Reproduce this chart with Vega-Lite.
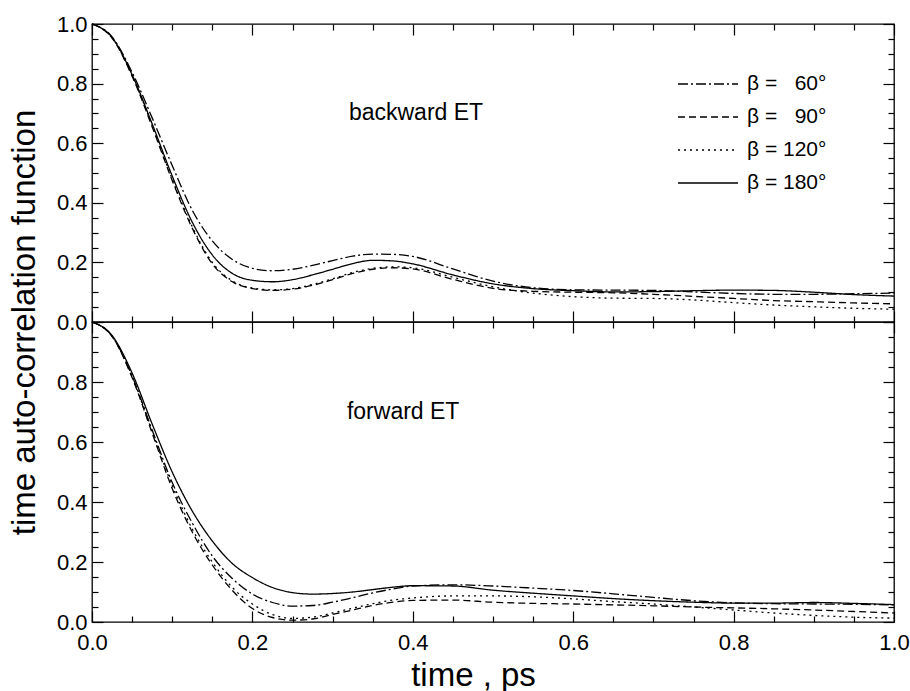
{
  "$schema": "https://vega.github.io/schema/vega-lite/v6.json",
  "padding": {"left": 7, "top": 12, "right": 12, "bottom": 5},
  "spacing": 0,
  "bounds": "flush",
  "config": {
    "font": "Liberation Sans",
    "view": {"stroke": "black", "strokeWidth": 1.3},
    "axis": {"domain": false, "grid": false, "labelFlush": false, "labelFont": "Liberation Sans", "labelFontSize": 22, "labelColor": "black", "tickColor": "black", "tickWidth": 1.2, "titleFont": "Liberation Sans", "titleFontSize": 33, "titleFontWeight": "normal", "titleColor": "black"},
    "concat": {"spacing": 0}
  },
  "datasets": {
    "top": [
      {"b":"60","t":0,"v":1},{"b":"60","t":0.025,"v":0.957},{"b":"60","t":0.05,"v":0.838},{"b":"60","t":0.075,"v":0.685},{"b":"60","t":0.1,"v":0.525},{"b":"60","t":0.125,"v":0.375},{"b":"60","t":0.15,"v":0.272},{"b":"60","t":0.175,"v":0.21},{"b":"60","t":0.2,"v":0.18},{"b":"60","t":0.225,"v":0.172},{"b":"60","t":0.25,"v":0.177},{"b":"60","t":0.275,"v":0.19},{"b":"60","t":0.3,"v":0.206},{"b":"60","t":0.325,"v":0.221},{"b":"60","t":0.35,"v":0.228},{"b":"60","t":0.375,"v":0.227},{"b":"60","t":0.4,"v":0.22},{"b":"60","t":0.45,"v":0.178},{"b":"60","t":0.5,"v":0.137},{"b":"60","t":0.55,"v":0.115},{"b":"60","t":0.6,"v":0.108},{"b":"60","t":0.65,"v":0.107},{"b":"60","t":0.7,"v":0.106},{"b":"60","t":0.75,"v":0.101},{"b":"60","t":0.8,"v":0.096},{"b":"60","t":0.85,"v":0.093},{"b":"60","t":0.9,"v":0.093},{"b":"60","t":0.95,"v":0.095},{"b":"60","t":1,"v":0.097},
      {"b":"90","t":0,"v":1},{"b":"90","t":0.025,"v":0.953},{"b":"90","t":0.05,"v":0.825},{"b":"90","t":0.075,"v":0.655},{"b":"90","t":0.1,"v":0.475},{"b":"90","t":0.125,"v":0.315},{"b":"90","t":0.15,"v":0.195},{"b":"90","t":0.175,"v":0.135},{"b":"90","t":0.2,"v":0.112},{"b":"90","t":0.225,"v":0.106},{"b":"90","t":0.25,"v":0.11},{"b":"90","t":0.275,"v":0.123},{"b":"90","t":0.3,"v":0.142},{"b":"90","t":0.325,"v":0.163},{"b":"90","t":0.35,"v":0.177},{"b":"90","t":0.375,"v":0.182},{"b":"90","t":0.4,"v":0.178},{"b":"90","t":0.45,"v":0.143},{"b":"90","t":0.5,"v":0.113},{"b":"90","t":0.55,"v":0.103},{"b":"90","t":0.6,"v":0.1},{"b":"90","t":0.65,"v":0.098},{"b":"90","t":0.7,"v":0.093},{"b":"90","t":0.75,"v":0.086},{"b":"90","t":0.8,"v":0.079},{"b":"90","t":0.85,"v":0.072},{"b":"90","t":0.9,"v":0.068},{"b":"90","t":0.95,"v":0.064},{"b":"90","t":1,"v":0.061},
      {"b":"120","t":0,"v":1},{"b":"120","t":0.025,"v":0.954},{"b":"120","t":0.05,"v":0.827},{"b":"120","t":0.075,"v":0.66},{"b":"120","t":0.1,"v":0.48},{"b":"120","t":0.125,"v":0.32},{"b":"120","t":0.15,"v":0.2},{"b":"120","t":0.175,"v":0.138},{"b":"120","t":0.2,"v":0.114},{"b":"120","t":0.225,"v":0.108},{"b":"120","t":0.25,"v":0.112},{"b":"120","t":0.275,"v":0.126},{"b":"120","t":0.3,"v":0.145},{"b":"120","t":0.325,"v":0.166},{"b":"120","t":0.35,"v":0.18},{"b":"120","t":0.375,"v":0.185},{"b":"120","t":0.4,"v":0.182},{"b":"120","t":0.45,"v":0.15},{"b":"120","t":0.5,"v":0.118},{"b":"120","t":0.55,"v":0.097},{"b":"120","t":0.6,"v":0.085},{"b":"120","t":0.65,"v":0.08},{"b":"120","t":0.7,"v":0.079},{"b":"120","t":0.75,"v":0.074},{"b":"120","t":0.8,"v":0.065},{"b":"120","t":0.85,"v":0.057},{"b":"120","t":0.9,"v":0.051},{"b":"120","t":0.95,"v":0.046},{"b":"120","t":1,"v":0.043},
      {"b":"180","t":0,"v":1},{"b":"180","t":0.025,"v":0.955},{"b":"180","t":0.05,"v":0.83},{"b":"180","t":0.075,"v":0.665},{"b":"180","t":0.1,"v":0.49},{"b":"180","t":0.125,"v":0.335},{"b":"180","t":0.15,"v":0.225},{"b":"180","t":0.175,"v":0.163},{"b":"180","t":0.2,"v":0.14},{"b":"180","t":0.225,"v":0.135},{"b":"180","t":0.25,"v":0.142},{"b":"180","t":0.275,"v":0.158},{"b":"180","t":0.3,"v":0.177},{"b":"180","t":0.325,"v":0.196},{"b":"180","t":0.35,"v":0.207},{"b":"180","t":0.375,"v":0.205},{"b":"180","t":0.4,"v":0.195},{"b":"180","t":0.45,"v":0.158},{"b":"180","t":0.5,"v":0.128},{"b":"180","t":0.55,"v":0.112},{"b":"180","t":0.6,"v":0.105},{"b":"180","t":0.65,"v":0.101},{"b":"180","t":0.7,"v":0.102},{"b":"180","t":0.75,"v":0.105},{"b":"180","t":0.8,"v":0.107},{"b":"180","t":0.85,"v":0.106},{"b":"180","t":0.9,"v":0.1},{"b":"180","t":0.95,"v":0.092},{"b":"180","t":1,"v":0.087}
    ],
    "bot": [
      {"b":"60","t":0,"v":1},{"b":"60","t":0.025,"v":0.953},{"b":"60","t":0.05,"v":0.82},{"b":"60","t":0.075,"v":0.64},{"b":"60","t":0.1,"v":0.465},{"b":"60","t":0.125,"v":0.33},{"b":"60","t":0.15,"v":0.22},{"b":"60","t":0.175,"v":0.145},{"b":"60","t":0.2,"v":0.093},{"b":"60","t":0.225,"v":0.065},{"b":"60","t":0.25,"v":0.053},{"b":"60","t":0.275,"v":0.055},{"b":"60","t":0.3,"v":0.066},{"b":"60","t":0.325,"v":0.081},{"b":"60","t":0.35,"v":0.097},{"b":"60","t":0.375,"v":0.11},{"b":"60","t":0.4,"v":0.12},{"b":"60","t":0.45,"v":0.124},{"b":"60","t":0.5,"v":0.12},{"b":"60","t":0.55,"v":0.113},{"b":"60","t":0.6,"v":0.105},{"b":"60","t":0.65,"v":0.094},{"b":"60","t":0.7,"v":0.082},{"b":"60","t":0.75,"v":0.071},{"b":"60","t":0.8,"v":0.064},{"b":"60","t":0.85,"v":0.061},{"b":"60","t":0.9,"v":0.06},{"b":"60","t":0.95,"v":0.059},{"b":"60","t":1,"v":0.057},
      {"b":"90","t":0,"v":1},{"b":"90","t":0.025,"v":0.952},{"b":"90","t":0.05,"v":0.815},{"b":"90","t":0.075,"v":0.63},{"b":"90","t":0.1,"v":0.445},{"b":"90","t":0.125,"v":0.3},{"b":"90","t":0.15,"v":0.19},{"b":"90","t":0.175,"v":0.105},{"b":"90","t":0.2,"v":0.045},{"b":"90","t":0.225,"v":0.015},{"b":"90","t":0.25,"v":0.006},{"b":"90","t":0.275,"v":0.01},{"b":"90","t":0.3,"v":0.025},{"b":"90","t":0.325,"v":0.04},{"b":"90","t":0.35,"v":0.055},{"b":"90","t":0.375,"v":0.066},{"b":"90","t":0.4,"v":0.072},{"b":"90","t":0.45,"v":0.073},{"b":"90","t":0.5,"v":0.066},{"b":"90","t":0.55,"v":0.062},{"b":"90","t":0.6,"v":0.06},{"b":"90","t":0.65,"v":0.057},{"b":"90","t":0.7,"v":0.054},{"b":"90","t":0.75,"v":0.05},{"b":"90","t":0.8,"v":0.047},{"b":"90","t":0.85,"v":0.044},{"b":"90","t":0.9,"v":0.04},{"b":"90","t":0.95,"v":0.035},{"b":"90","t":1,"v":0.03},
      {"b":"120","t":0,"v":1},{"b":"120","t":0.025,"v":0.953},{"b":"120","t":0.05,"v":0.818},{"b":"120","t":0.075,"v":0.635},{"b":"120","t":0.1,"v":0.455},{"b":"120","t":0.125,"v":0.31},{"b":"120","t":0.15,"v":0.2},{"b":"120","t":0.175,"v":0.115},{"b":"120","t":0.2,"v":0.06},{"b":"120","t":0.225,"v":0.025},{"b":"120","t":0.25,"v":0.012},{"b":"120","t":0.275,"v":0.016},{"b":"120","t":0.3,"v":0.03},{"b":"120","t":0.325,"v":0.046},{"b":"120","t":0.35,"v":0.061},{"b":"120","t":0.375,"v":0.073},{"b":"120","t":0.4,"v":0.08},{"b":"120","t":0.45,"v":0.087},{"b":"120","t":0.5,"v":0.087},{"b":"120","t":0.55,"v":0.084},{"b":"120","t":0.6,"v":0.077},{"b":"120","t":0.65,"v":0.068},{"b":"120","t":0.7,"v":0.06},{"b":"120","t":0.75,"v":0.05},{"b":"120","t":0.8,"v":0.04},{"b":"120","t":0.85,"v":0.03},{"b":"120","t":0.9,"v":0.022},{"b":"120","t":0.95,"v":0.016},{"b":"120","t":1,"v":0.013},
      {"b":"180","t":0,"v":1},{"b":"180","t":0.025,"v":0.955},{"b":"180","t":0.05,"v":0.83},{"b":"180","t":0.075,"v":0.66},{"b":"180","t":0.1,"v":0.5},{"b":"180","t":0.125,"v":0.37},{"b":"180","t":0.15,"v":0.27},{"b":"180","t":0.175,"v":0.195},{"b":"180","t":0.2,"v":0.148},{"b":"180","t":0.225,"v":0.115},{"b":"180","t":0.25,"v":0.098},{"b":"180","t":0.275,"v":0.093},{"b":"180","t":0.3,"v":0.095},{"b":"180","t":0.325,"v":0.1},{"b":"180","t":0.35,"v":0.108},{"b":"180","t":0.375,"v":0.116},{"b":"180","t":0.4,"v":0.121},{"b":"180","t":0.45,"v":0.12},{"b":"180","t":0.5,"v":0.106},{"b":"180","t":0.55,"v":0.096},{"b":"180","t":0.6,"v":0.087},{"b":"180","t":0.65,"v":0.078},{"b":"180","t":0.7,"v":0.071},{"b":"180","t":0.75,"v":0.066},{"b":"180","t":0.8,"v":0.063},{"b":"180","t":0.85,"v":0.063},{"b":"180","t":0.9,"v":0.065},{"b":"180","t":0.95,"v":0.062},{"b":"180","t":1,"v":0.058}
    ]
  },
  "vconcat": [
    {
      "width": 802, "height": 298,
      "layer": [
        {
          "data": {"name": "top"},
          "mark": {"type": "line", "color": "black", "strokeWidth": 1.3, "interpolate": "monotone"},
          "encoding": {
            "x": {"field": "t", "type": "quantitative", "scale": {"domain": [0, 1], "nice": false},
              "axis": {"orient": "bottom", "values": [0,0.05,0.1,0.15,0.2,0.25,0.3,0.35,0.4,0.45,0.5,0.55,0.6,0.65,0.7,0.75,0.8,0.85,0.9,0.95,1], "labels": false, "title": null,
                "tickSize": {"condition": {"test": "abs(datum.value*5 - round(datum.value*5)) < 0.001", "value": -11}, "value": -6}}},
            "y": {"field": "v", "type": "quantitative", "scale": {"domain": [0, 1], "nice": false},
              "axis": {"orient": "left", "values": [0,0.05,0.1,0.15,0.2,0.25,0.3,0.35,0.4,0.45,0.5,0.55,0.6,0.65,0.7,0.75,0.8,0.85,0.9,0.95,1],
                "labelExpr": "abs(datum.value*5 - round(datum.value*5)) < 0.001 ? format(datum.value, '.1f') : ''",
                "tickSize": {"condition": {"test": "abs(datum.value*5 - round(datum.value*5)) < 0.001", "value": -11}, "value": -6},
                "labelPadding": 16,
                "title": "time auto-correlation function", "titleX": -68, "titleY": 298, "titleAlign": "center", "titleBaseline": "middle", "titleAngle": -90}},
            "strokeDash": {"field": "b", "type": "nominal",
              "scale": {"domain": ["60", "90", "120", "180"], "range": [[10, 3, 2, 3], [7, 4], [2, 4], [1, 0]]},
              "legend": {"orient": "none", "legendX": 600, "legendY": 44, "title": null, "symbolType": "M-2,0H2", "symbolSize": 900, "symbolStrokeWidth": 1.3, "labelFontSize": 21, "labelFont": "Liberation Sans", "labelColor": "black", "rowPadding": 7, "labelOffset": 23,
                "labelExpr": "'β = ' + (length(datum.label) < 3 ? '\u2007' : '') + datum.label + '°'"}}
          }
        },
        {
          "data": {"name": "top"},
          "mark": {"type": "line", "opacity": 0},
          "encoding": {
            "x": {"field": "t", "type": "quantitative", "scale": {"domain": [0, 1], "nice": false},
              "axis": {"orient": "top", "values": [0,0.05,0.1,0.15,0.2,0.25,0.3,0.35,0.4,0.45,0.5,0.55,0.6,0.65,0.7,0.75,0.8,0.85,0.9,0.95,1], "labels": false, "title": null,
                "tickSize": {"condition": {"test": "abs(datum.value*5 - round(datum.value*5)) < 0.001", "value": -11}, "value": -6}}},
            "y": {"field": "v", "type": "quantitative", "scale": {"domain": [0, 1], "nice": false},
              "axis": {"orient": "right", "values": [0,0.05,0.1,0.15,0.2,0.25,0.3,0.35,0.4,0.45,0.5,0.55,0.6,0.65,0.7,0.75,0.8,0.85,0.9,0.95,1], "labels": false, "title": null,
                "tickSize": {"condition": {"test": "abs(datum.value*5 - round(datum.value*5)) < 0.001", "value": -11}, "value": -6}}},
            "detail": {"field": "b"}
          }
        },
        {
          "data": {"values": [{"label": "backward ET", "t": 0.404, "v": 0.70}]},
          "mark": {"type": "text", "fontSize": 23, "font": "Liberation Sans", "color": "black", "align": "center", "baseline": "middle"},
          "encoding": {
            "x": {"field": "t", "type": "quantitative", "axis": null},
            "y": {"field": "v", "type": "quantitative", "axis": null},
            "text": {"field": "label"}
          }
        }
      ],
      "resolve": {"axis": {"x": "independent", "y": "independent"}}
    },
    {
      "width": 802, "height": 300,
      "layer": [
        {
          "data": {"name": "bot"},
          "mark": {"type": "line", "color": "black", "strokeWidth": 1.3, "interpolate": "monotone"},
          "encoding": {
            "x": {"field": "t", "type": "quantitative", "scale": {"domain": [0, 1], "nice": false},
              "axis": {"orient": "bottom", "values": [0,0.05,0.1,0.15,0.2,0.25,0.3,0.35,0.4,0.45,0.5,0.55,0.6,0.65,0.7,0.75,0.8,0.85,0.9,0.95,1],
                "labelExpr": "abs(datum.value*5 - round(datum.value*5)) < 0.001 ? format(datum.value, '.1f') : ''",
                "labelPadding": 21,
                "title": "time , ps", "titlePadding": 6, "titleX": 381,
                "tickSize": {"condition": {"test": "abs(datum.value*5 - round(datum.value*5)) < 0.001", "value": -11}, "value": -6}}},
            "y": {"field": "v", "type": "quantitative", "scale": {"domain": [0, 1], "nice": false},
              "axis": {"orient": "left", "values": [0,0.05,0.1,0.15,0.2,0.25,0.3,0.35,0.4,0.45,0.5,0.55,0.6,0.65,0.7,0.75,0.8,0.85,0.9,0.95,1],
                "labelExpr": "abs(datum.value*5 - round(datum.value*5)) < 0.001 && datum.value < 0.99 ? format(datum.value, '.1f') : ''",
                "labelPadding": 16, "title": null,
                "tickSize": {"condition": {"test": "abs(datum.value*5 - round(datum.value*5)) < 0.001", "value": -11}, "value": -6}}},
            "strokeDash": {"field": "b", "type": "nominal", "legend": null,
              "scale": {"domain": ["60", "90", "120", "180"], "range": [[10, 3, 2, 3], [7, 4], [2, 4], [1, 0]]}}
          }
        },
        {
          "data": {"name": "bot"},
          "mark": {"type": "line", "opacity": 0},
          "encoding": {
            "x": {"field": "t", "type": "quantitative", "scale": {"domain": [0, 1], "nice": false},
              "axis": {"orient": "top", "values": [0,0.05,0.1,0.15,0.2,0.25,0.3,0.35,0.4,0.45,0.5,0.55,0.6,0.65,0.7,0.75,0.8,0.85,0.9,0.95,1], "labels": false, "title": null,
                "tickSize": {"condition": {"test": "abs(datum.value*5 - round(datum.value*5)) < 0.001", "value": -11}, "value": -6}}},
            "y": {"field": "v", "type": "quantitative", "scale": {"domain": [0, 1], "nice": false},
              "axis": {"orient": "right", "values": [0,0.05,0.1,0.15,0.2,0.25,0.3,0.35,0.4,0.45,0.5,0.55,0.6,0.65,0.7,0.75,0.8,0.85,0.9,0.95,1], "labels": false, "title": null,
                "tickSize": {"condition": {"test": "abs(datum.value*5 - round(datum.value*5)) < 0.001", "value": -11}, "value": -6}}},
            "detail": {"field": "b"}
          }
        },
        {
          "data": {"values": [{"label": "forward ET", "t": 0.388, "v": 0.70}]},
          "mark": {"type": "text", "fontSize": 23, "font": "Liberation Sans", "color": "black", "align": "center", "baseline": "middle"},
          "encoding": {
            "x": {"field": "t", "type": "quantitative", "axis": null},
            "y": {"field": "v", "type": "quantitative", "axis": null},
            "text": {"field": "label"}
          }
        }
      ],
      "resolve": {"axis": {"x": "independent", "y": "independent"}}
    }
  ]
}
